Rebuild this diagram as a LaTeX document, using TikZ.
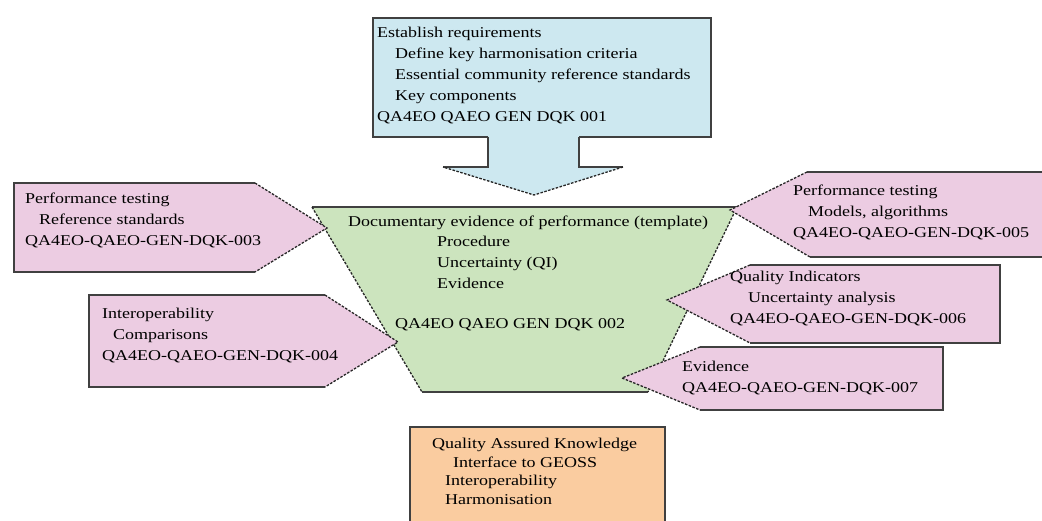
\documentclass[tikz,border=0pt]{standalone}
\usepackage{fontspec}
\setmainfont{Liberation Serif}[FakeStretch=1.2]
\definecolor{reqblue}{RGB}{205,232,240}
\definecolor{docgreen}{RGB}{204,228,190}
\definecolor{refpink}{RGB}{236,204,226}
\definecolor{qaorange}{RGB}{250,204,160}

\begin{document}
\begin{tikzpicture}[x=1pt,y=-1pt]
	\tikzset{txt/.style={anchor=north west, inner sep=0pt, align=left, font=\fontsize{15}{21}\selectfont}}
	\tikzset{solidedge/.style={draw=black!75, line width=1.2pt}}
	\tikzset{dotedge/.style={draw=black!85, line width=1.3pt, dash pattern=on 2.5pt off 1.5pt}}
	\useasboundingbox (0,0) rectangle (1042,521);

	% requirements box with its arrow
	\fill[reqblue] (373,18) -- (711,18) -- (711,137) -- (579,137) -- (579,167) -- (623,167)
		-- (534,195) -- (443,167) -- (488,167) -- (488,137) -- (373,137) -- cycle;
	\draw[solidedge] (488,137) -- (373,137) -- (373,18) -- (711,18) -- (711,137) -- (579,137);
	\draw[solidedge] (579,137) -- (579,167) -- (623,167);
	\draw[solidedge] (488,137) -- (488,167) -- (443,167);
	\draw[dotedge] (623,167) -- (534,195) -- (443,167);

	% documentary evidence
	\fill[docgreen] (312,207) -- (737,207) -- (648,392) -- (422,392) -- cycle;
	\draw[solidedge] (312,207) -- (737,207);
	\draw[solidedge] (422,392) -- (648,392);
	\draw[dotedge] (312,207) -- (422,392);
	\draw[dotedge] (737,207) -- (648,392);

	% left arrows
	\fill[refpink] (14,183) -- (255,183) -- (327,228) -- (255,272) -- (14,272) -- cycle;
	\draw[solidedge] (255,183) -- (14,183) -- (14,272) -- (255,272);
	\draw[dotedge] (255,183) -- (327,228) -- (255,272);

	\fill[refpink] (89,295) -- (325,295) -- (398,342) -- (325,387) -- (89,387) -- cycle;
	\draw[solidedge] (325,295) -- (89,295) -- (89,387) -- (325,387);
	\draw[dotedge] (325,295) -- (398,342) -- (325,387);

	% right arrows
	\fill[refpink] (1046,172) -- (807,172) -- (730,210) -- (810,257) -- (1046,257) -- cycle;
	\draw[solidedge] (807,172) -- (1046,172);
	\draw[solidedge] (810,257) -- (1046,257);
	\draw[dotedge] (807,172) -- (730,210) -- (810,257);

	\fill[refpink] (1000,265) -- (750,265) -- (667,300) -- (750,343) -- (1000,343) -- cycle;
	\draw[solidedge] (750,265) -- (1000,265) -- (1000,343) -- (750,343);
	\draw[dotedge] (750,265) -- (667,300) -- (750,343);

	\fill[refpink] (943,347) -- (700,347) -- (622,378) -- (700,410) -- (943,410) -- cycle;
	\draw[solidedge] (700,347) -- (943,347) -- (943,410) -- (700,410);
	\draw[dotedge] (700,347) -- (622,378) -- (700,410);

	% quality assured knowledge
	\fill[qaorange] (410,427) rectangle (665,530);
	\draw[solidedge] (410,530) -- (410,427) -- (665,427) -- (665,530);

	% texts
	\node[txt] (req) at (377,27) {Establish requirements\\
		\hspace*{18pt}Define key harmonisation criteria\\
		\hspace*{18pt}Essential community reference standards\\
		\hspace*{18pt}Key components\\
		QA4EO QAEO GEN DQK 001};
	\node[txt] (doc) at (348,216) {Documentary evidence of performance (template)};
	\node[txt] (docitems) at (437,236) {Procedure\\Uncertainty (QI)\\Evidence};
	\node[txt] (doccode) at (395,318) {QA4EO QAEO GEN DQK 002};
	\node[txt] (perfref) at (25,193) {Performance testing\\
		\hspace*{14pt}Reference standards\\
		QA4EO-QAEO-GEN-DQK-003};
	\node[txt] (interop) at (102,308) {Interoperability\\
		\hspace*{11pt}Comparisons\\
		QA4EO-QAEO-GEN-DQK-004};
	\node[txt] (perfmod) at (793,185) {Performance testing\\
		\hspace*{15pt}Models, algorithms\\
		QA4EO-QAEO-GEN-DQK-005};
	\node[txt] (qi) at (730,271) {Quality Indicators\\
		\hspace*{18pt}Uncertainty analysis\\
		QA4EO-QAEO-GEN-DQK-006};
	\node[txt] (evid) at (682,361) {Evidence\\
		QA4EO-QAEO-GEN-DQK-007};
	\node[txt, font=\fontsize{15}{18.5}\selectfont] (qak) at (432,438) {Quality Assured Knowledge\\
		\hspace*{21pt}Interface to GEOSS\\
		\hspace*{13pt}Interoperability\\
		\hspace*{13pt}Harmonisation};
\end{tikzpicture}
\end{document}
